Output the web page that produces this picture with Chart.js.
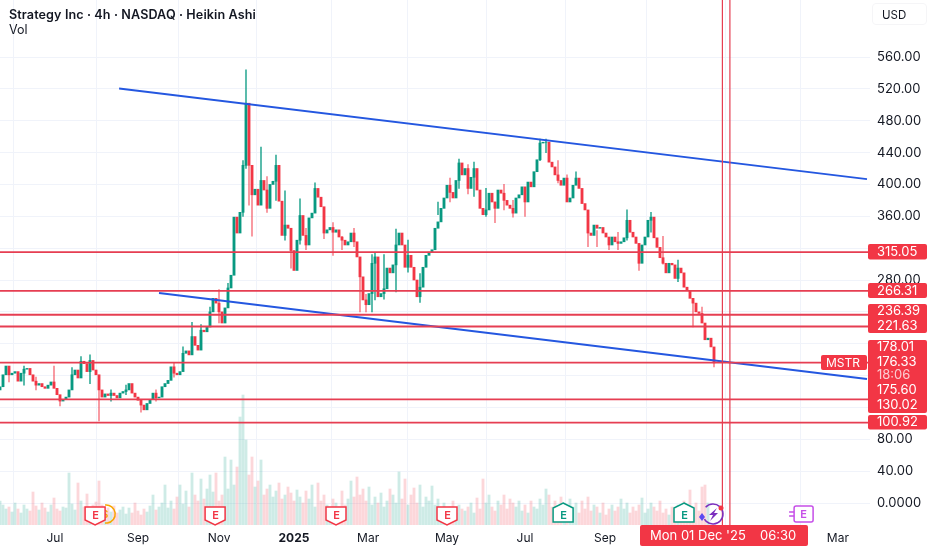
<!DOCTYPE html>
<html lang="en">
<head>
  <meta charset="UTF-8">
  <title>Strategy Inc - MSTR</title>
  <script src="https://cdn.jsdelivr.net/npm/chart.js"></script>
  <style>
    body { margin: 0; background: #fff; font-family: Inter, Roboto, sans-serif; }
    .wrap { position: relative; width: 932px; height: 550px; overflow: hidden; }
    canvas { position: absolute; left: 0; top: 0; }
    .head { position: absolute; left: 9px; top: 7px; font-size: 12.6px; font-weight: 600; color: #131722; letter-spacing: .1px; }
    .vol { position: absolute; left: 9px; top: 22px; font-size: 12.5px; color: #131722; }
    .usd { position: absolute; left: 872px; top: 3px; width: 55px; height: 22px; line-height: 22px; box-sizing: border-box; padding-left: 9px; font-size: 11.5px; color: #131722; border: 1px solid #f5f5f7; border-radius: 4px; }
  </style>
</head>
<body>
  <div class="wrap">
    <canvas id="chart" width="932" height="550"></canvas>
    <div class="head">Strategy Inc · 4h · NASDAQ · Heikin Ashi</div>
    <div class="vol">Vol</div>
    <div class="usd">USD</div>
  </div>

  <script>
    // closes, one bar per 3 px of the reference
    const closes = [
      146,161,172,161,163,165,153,163,168,169,161,153,148,150,146,144,148,152,144,136,
      128,130,133,142,161,167,157,178,175,165,179,167,161,142,133,137,135,138,135,132,
      138,140,142,150,138,133,129,123,117,125,130,138,132,133,146,150,154,171,163,161,
      165,188,191,186,209,198,192,217,215,221,240,257,251,240,226,245,270,286,
      359,339,365,424,502,424,387,394,374,405,393,370,400,404,424,379,336,349,345,317,292,330,361,336,324,358,
      364,395,384,372,339,343,346,340,343,334,330,324,328,339,328,309,284,255,249,263,301,309,259,263,269,295,289,299,324,339,324,296,311,296,280,259,271,296,311,315,318,
      345,353,370,383,399,390,383,405,427,412,420,395,409,420,393,370,362,368,389,378,370,393,389,380,374,370,364,383,387,397,378,403,397,416,431,452,453,453,
      428,422,412,405,399,408,378,383,399,408,395,376,368,339,336,349,345,346,339,334,324,334,328,326,
      328,333,355,340,334,326,301,324,334,355,359,333,321,308,301,289,301,299,282,295,289,271,267,257,251,240,238,226,205,207,196,176
    ];

    // heikin ashi wicks that stick out of the bodies
    const wickBars = [3,8,18,20,24,27,30,33,47,52,64,73,81,82,83,84,87,92,97,100,105,111,120,124,125,132,153,158,162,171,180,182,192,196,203,209,213,217,231,238,
      12,37,42,58,61,67,70,76,89,95,102,108,114,118,122,128,136,140,146,150,156,165,168,175,186,189,199,206,221,226,234];
    const wickHigh = [168,172,172,135,170,184,186,142,128,142,227,268,430,544,478,410,447,437,340,382,402,352,300,312,314,344,432,428,395,380,457,457,416,345,330,368,310,365,255,180,
      158,142,148,176,196,224,246,276,410,392,345,352,335,345,262,312,330,288,378,408,425,378,400,388,430,412,342,340,335,305,246];
    const wickLow  = [152,148,146,122,150,170,150,103,114,128,195,226,360,420,374,335,378,380,295,325,370,311,240,240,255,265,395,385,360,359,430,440,400,322,318,330,292,340,221,171,
      142,128,136,158,180,205,232,262,365,330,318,332,318,322,240,256,290,252,362,378,388,352,368,360,402,390,322,318,300,278,232];

    // volume, same bars as the closes
    const volumes = [
      24,20,16,18,13,22,16,12,20,16,14,33,19,15,22,17,13,20,27,16,
      14,18,17,52,21,15,42,24,18,31,16,20,23,44,20,14,17,13,19,12,
      15,18,11,17,12,22,14,10,16,13,19,30,15,18,22,40,17,24,16,28,
      40,21,34,18,52,30,24,46,26,36,50,33,52,24,30,68,36,65,
      40,58,108,130,85,50,68,38,44,65,30,36,40,28,34,42,26,30,38,32,24,35,28,22,34,26,
      40,18,42,24,30,20,16,26,22,18,34,20,26,44,28,48,30,36,24,38,20,28,22,32,18,24,36,30,22,53,26,46,20,30,37,22,40,18,28,24,39,
      20,26,16,22,14,18,24,12,20,16,14,18,22,12,27,16,46,22,30,18,14,24,20,30,16,26,22,18,24,14,20,12,24,18,16,26,20,36,
      30,18,24,14,28,20,16,26,18,22,12,24,16,28,14,20,18,12,22,10,16,20,14,18,
      26,16,22,12,18,14,20,27,12,16,22,18,14,24,12,16,10,18,14,20,16,24,12,35,18,22,14,38,40,22
    ];

    const levels = [315.05, 266.31, 236.39, 221.63, 176.33, 130.02, 100.92];
    const cursorBars = [240.8, 243.3];
    const upperTrend = [[39.7, 520.5], [289, 406.8]];
    const lowerTrend = [[53, 263.7], [289, 155.7]];

    const yTicks = [560,520,480,440,400,360,320,280,240,200,160,120,80,40,0];
    const yHidden = [320,240,200,160,120];
    const xTicks = [18.3,46,73,98,122.7,149,175,201.7,229.3,254.3,279.3];
    const xLabels = ['Jul','Sep','Nov','2025','Mar','May','Jul','Sep','','','Mar'];

    // earnings flags: bar, colour, shape
    const earnings = [
      { bar: 31.7, color: '#f23645', kind: 'down' },
      { bar: 71.7, color: '#f23645', kind: 'down' },
      { bar: 112,  color: '#f23645', kind: 'down' },
      { bar: 149,  color: '#f23645', kind: 'down' },
      { bar: 187.7, color: '#089981', kind: 'up' },
      { bar: 228,  color: '#089981', kind: 'up' },
      { bar: 267.7, color: '#c64fe8', kind: 'box' }
    ];

    const RED = '#f23645', GREEN = '#089981', BLUE = '#2457e0', LINE_RED = '#e63e52';

    const YMIN = -27.6, YMAX = 631.6;

    const bodies = closes.map((c, i) => ({ x: i, y: [i ? closes[i - 1] : c - 4, c] }));
    const bodyColors = closes.map((c, i) => (i && c < closes[i - 1]) ? RED : GREEN);
    const wicks = wickBars.map((b, i) => ({ x: b, y: [wickLow[i], wickHigh[i]] }));
    const wickColors = wickBars.map(b => (b && closes[b] < closes[b - 1]) ? 'rgba(242,54,69,.6)' : 'rgba(8,153,129,.8)');
    const volColors = closes.map((c, i) => (i && c < closes[i - 1]) ? 'rgba(242,54,69,.2)' : 'rgba(8,153,129,.2)');

    const flat = (data, color, width) => ({
      type: 'line', data, borderColor: color, borderWidth: width,
      pointRadius: 0, tension: 0, order: 1
    });

    const datasets = [
      { type: 'bar', data: bodies, backgroundColor: bodyColors, barThickness: 2.2, grouped: false, order: 3 },
      { type: 'bar', data: wicks, backgroundColor: wickColors, barThickness: 1, grouped: false, order: 4 },
      { type: 'bar', data: volumes.map((v, i) => ({ x: i, y: v })), backgroundColor: volColors, barThickness: 2.2, grouped: false, yAxisID: 'yVol', order: 5 },
      ...levels.map(l => flat([{ x: 0, y: l }, { x: 290, y: l }], LINE_RED, 1.8)),
      ...cursorBars.map(b => flat([{ x: b, y: YMIN }, { x: b, y: YMAX }], LINE_RED, 1.2)),
      flat(upperTrend.map(p => ({ x: p[0], y: p[1] })), BLUE, 1.8),
      flat(lowerTrend.map(p => ({ x: p[0], y: p[1] })), BLUE, 1.8)
    ];

    // shield with an E inside, the way the earnings flags look
    function flag(ctx, x, e) {
      const top = e.kind === 'up' ? 503 : 507;
      ctx.save();
      ctx.strokeStyle = e.color;
      ctx.fillStyle = '#fff';
      ctx.lineWidth = 1.5;
      ctx.beginPath();
      if (e.kind === 'down') {
        ctx.moveTo(x - 10, top); ctx.lineTo(x + 10, top); ctx.lineTo(x + 10, top + 13);
        ctx.lineTo(x, top + 18); ctx.lineTo(x - 10, top + 13); ctx.closePath();
      } else if (e.kind === 'up') {
        ctx.moveTo(x, top); ctx.lineTo(x + 10, top + 5); ctx.lineTo(x + 10, top + 19);
        ctx.lineTo(x - 10, top + 19); ctx.lineTo(x - 10, top + 5); ctx.closePath();
      } else {
        ctx.roundRect(x - 9, 506, 19, 16, 2);
      }
      ctx.fill();
      ctx.stroke();
      ctx.fillStyle = e.color;
      ctx.font = '600 11px Inter';
      ctx.textAlign = 'center';
      ctx.textBaseline = 'middle';
      const mid = e.kind === 'up' ? top + 12 : e.kind === 'down' ? top + 8 : 514;
      ctx.fillText('E', x + .5, mid + .5);
      if (e.kind === 'box') {
        ctx.strokeStyle = e.color;
        ctx.beginPath();
        ctx.moveTo(x - 14, 512); ctx.lineTo(x - 9, 512);
        ctx.moveTo(x - 14, 516); ctx.lineTo(x - 9, 516);
        ctx.stroke();
      }
      ctx.restore();
    }

    const overlay = {
      id: 'overlay',
      afterDatasetsDraw(chart) {
        const ctx = chart.ctx, xs = chart.scales.x;
        ctx.save();

        // dividend circle sits behind the first flag
        ctx.strokeStyle = '#f7a600';
        ctx.lineWidth = 1.5;
        ctx.beginPath();
        ctx.arc(xs.getPixelForValue(35.4), 514, 9, -1.7, 1.7);
        ctx.stroke();
        ctx.fillStyle = '#f7a600';
        ctx.font = '600 10px Inter';
        ctx.textAlign = 'center';
        ctx.textBaseline = 'middle';
        ctx.fillText('S', xs.getPixelForValue(35), 515);

        earnings.forEach(e => flag(ctx, xs.getPixelForValue(e.bar), e));

        // lightning badge next to the last candle
        ctx.strokeStyle = '#7b2fbe';
        ctx.lineWidth = 1.5;
        ctx.beginPath();
        ctx.arc(713, 514, 10, -2.4, 2.6);
        ctx.stroke();
        ctx.fillStyle = '#7b2fbe';
        ctx.beginPath();
        ctx.moveTo(717, 508); ctx.lineTo(709, 515); ctx.lineTo(713, 515);
        ctx.lineTo(710, 521); ctx.lineTo(718, 513); ctx.lineTo(714, 513);
        ctx.closePath();
        ctx.fill();
        ctx.fillStyle = '#5b4bf0';
        ctx.beginPath();
        ctx.moveTo(702, 513); ctx.lineTo(699, 517); ctx.lineTo(702, 521); ctx.lineTo(705, 517);
        ctx.closePath();
        ctx.fill();
        ctx.fillStyle = RED;
        ctx.beginPath();
        ctx.arc(721, 508, 2.5, 0, 7);
        ctx.fill();

        // right hand price tags
        const tagBoxes = [[244,15.5],[283,15],[304,29],[340,73],[415,14.5]];
        ctx.fillStyle = RED;
        tagBoxes.forEach(b => {
          ctx.beginPath();
          ctx.roundRect(868, b[0], 59, b[1], 2);
          ctx.fill();
        });
        ctx.font = '13px Inter';
        ctx.textAlign = 'left';
        const tagTexts = [['315.05',252],['266.31',291],['236.39',311.5],['221.63',326],['178.01',347],['176.33',362.5],['175.60',390],['130.02',405],['100.92',422.5]];
        ctx.fillStyle = '#fff';
        tagTexts.forEach(t => ctx.fillText(t[0], 877, t[1]));
        ctx.fillStyle = 'rgba(255,255,255,.75)';
        ctx.fillText('18:06', 877, 375.5);

        // symbol tag
        ctx.fillStyle = RED;
        ctx.beginPath();
        ctx.roundRect(821, 355, 46, 15, 2);
        ctx.fill();
        ctx.fillStyle = '#fff';
        ctx.font = '12px Inter';
        ctx.fillText('MSTR', 826, 363);

        // crosshair date
        ctx.fillStyle = RED;
        ctx.beginPath();
        ctx.roundRect(640, 525, 168, 21, 2);
        ctx.fill();
        ctx.fillStyle = '#fff';
        ctx.font = '13px Inter';
        ctx.fillText("Mon 01 Dec '25", 650, 536);
        ctx.fillText('06:30', 760, 536);
        ctx.restore();
      }
    };

    new Chart(document.getElementById('chart'), {
      type: 'bar',
      data: { datasets },
      options: {
        responsive: false,
        animation: false,
        parsing: { xAxisKey: 'x', yAxisKey: 'y' },
        layout: { padding: 0 },
        plugins: { legend: { display: false }, tooltip: { enabled: false } },
        scales: {
          x: {
            type: 'linear', min: 0, max: 290, offset: false,
            grid: { color: '#f0f3fa', drawTicks: false },
            border: { display: false },
            afterBuildTicks: s => { s.ticks = xTicks.map(v => ({ value: v })); },
            afterFit: s => { s.height = 25; s.paddingLeft = 0; s.paddingRight = 0; },
            ticks: {
              autoSkip: false, maxRotation: 0, padding: 6, color: '#131722',
              font: c => ({ family: 'Inter', size: 12, weight: c.tick && c.tick.value === 98 ? 700 : 400 }),
              callback: v => xLabels[xTicks.indexOf(v)]
            }
          },
          y: {
            type: 'linear', position: 'right', min: YMIN, max: YMAX,
            grid: { color: '#f0f3fa', drawTicks: false },
            border: { display: false },
            afterBuildTicks: s => { s.ticks = yTicks.map(v => ({ value: v })); },
            afterFit: s => { s.width = 62; s.paddingTop = 0; s.paddingBottom = 0; },
            ticks: {
              padding: 7, color: '#131722',
              font: { family: 'Inter', size: 13 },
              callback: v => yHidden.includes(v) ? '' : (v === 0 ? '0.0000' : v.toFixed(2))
            }
          },
          yVol: { type: 'linear', display: false, min: 0, max: 525 }
        }
      },
      plugins: [overlay]
    });
  </script>
</body>
</html>
